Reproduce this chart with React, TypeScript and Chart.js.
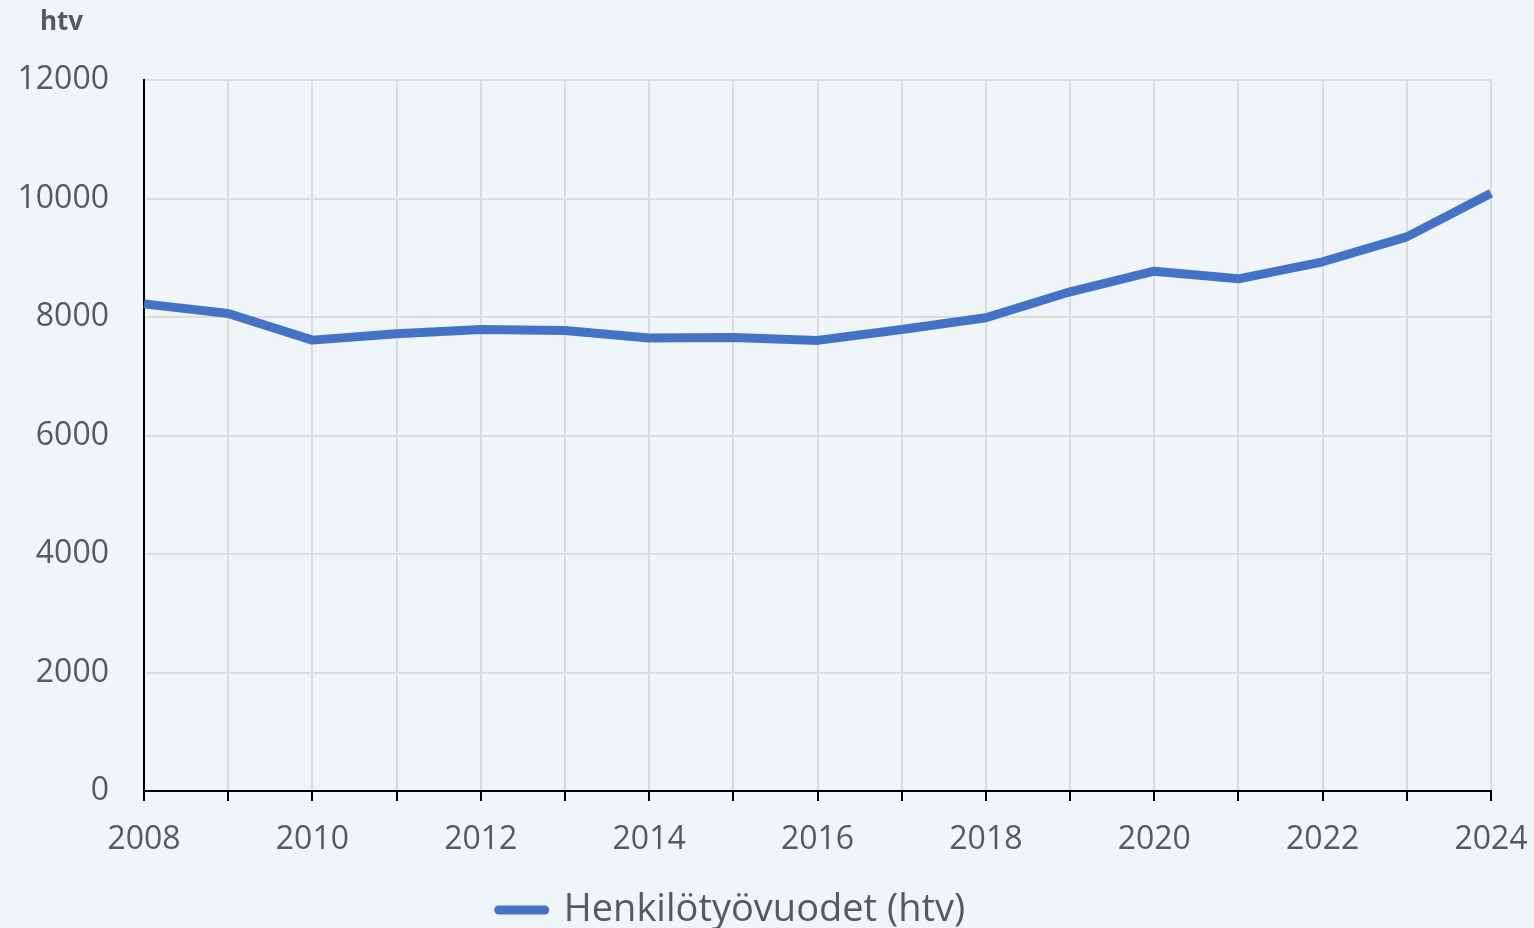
import React, { useEffect, useRef } from "react";
import { Chart, registerables } from "chart.js";

Chart.register(...registerables);

const years: string[] = [
  "2008", "2009", "2010", "2011", "2012", "2013", "2014", "2015", "2016",
  "2017", "2018", "2019", "2020", "2021", "2022", "2023", "2024",
];
const htvValues: number[] = [
  8224, 8062, 7612, 7718, 7792, 7775, 7646, 7657, 7607,
  7792, 7989, 8428, 8776, 8647, 8934, 9355, 10093,
];
const seriesLabel = "Henkilötyövuodet (htv)";
const unitTitle = "htv";
const yMin = 0;
const yMax = 12000;
const yStep = 2000;

const FONT = "'Open Sans', 'Liberation Sans', sans-serif";
const TEXT = "#595959";
const BG = "#F0F5FA";
const GRID = "#DCDCDC";
const LINE = "#4472C4";

export default function App() {
  const ref = useRef<HTMLCanvasElement | null>(null);

  useEffect(() => {
    if (!ref.current) return;
    const boxShift = {
      id: "boxShift",
      afterLayout(chart: any) {
        const lg = chart.legend;
        if (lg) {
          const dx = 732 - (lg.left + lg.right) / 2;
          lg.left += dx;
          lg.right += dx;
          const dy = 889 - lg.top;
          lg.top += dy;
          lg.bottom += dy;
        }
        const tb = chart.titleBlock;
        if (tb) {
          const dx = 40 - tb.left;
          tb.left += dx;
          tb.right += dx;
        }
      },
    };
    const chart = new Chart(ref.current, {
      type: "line",
      data: {
        labels: years,
        datasets: [
          {
            label: seriesLabel,
            data: htvValues,
            borderColor: LINE,
            backgroundColor: LINE,
            borderWidth: 9,
            borderCapStyle: "butt",
            borderJoinStyle: "round",
            pointRadius: 0,
            pointHoverRadius: 0,
            tension: 0,
            fill: false,
          },
        ],
      },
      options: {
        responsive: false,
        animation: false,
        devicePixelRatio: 1,
        layout: { padding: { left: 10, right: 43, top: 7, bottom: 0 } },
        plugins: {
          tooltip: { enabled: false },
          title: {
            display: true,
            text: unitTitle,
            align: "start",
            color: TEXT,
            font: { family: FONT, size: 26, weight: "bold" },
            padding: { top: 0, bottom: 42 },
          },
          legend: {
            display: true,
            position: "bottom",
            labels: {
              usePointStyle: true,
              pointStyle: "line",
              pointStyleWidth: 46,
              padding: 2,
              color: TEXT,
              font: { family: FONT, size: 38 },
              generateLabels: (c: any) =>
                Chart.defaults.plugins.legend.labels
                  .generateLabels(c)
                  .map((l: any) => ({ ...l, lineCap: "round", lineWidth: 9, fontColor: TEXT })),
            },
          },
        },
        scales: {
          x: {
            type: "category",
            offset: false,
            grid: {
              color: GRID,
              lineWidth: 2,
              tickColor: "#000000",
              tickLength: 10,
              drawTicks: true,
            },
            border: { color: "#000000", width: 2 },
            ticks: {
              autoSkip: false,
              maxRotation: 0,
              padding: 20,
              color: TEXT,
              font: { family: FONT, size: 32 },
              callback: function (this: any, _v: any, i: number) {
                return i % 2 === 0 ? years[i] : "";
              },
            },
            afterFit: (s: any) => {
              s.height = 87;
              s.paddingLeft = 0;
              s.paddingRight = 0;
            },
          },
          y: {
            min: yMin,
            max: yMax,
            grid: { color: GRID, lineWidth: 2, drawTicks: false },
            border: { color: "#000000", width: 2 },
            ticks: {
              stepSize: yStep,
              padding: 35,
              color: TEXT,
              font: { family: FONT, size: 32 },
              callback: (v: any) => String(v),
            },
            afterFit: (s: any) => {
              s.width = 134;
            },
          },
        },
      },
      plugins: [boxShift],
    } as any);
    return () => chart.destroy();
  }, []);

  return (
    <div
      style={{
        position: "fixed",
        left: 0,
        top: 0,
        width: 1534,
        height: 928,
        background: BG,
      }}
    >
      <canvas ref={ref} width={1534} height={928} style={{ display: "block" }} />
    </div>
  );
}
